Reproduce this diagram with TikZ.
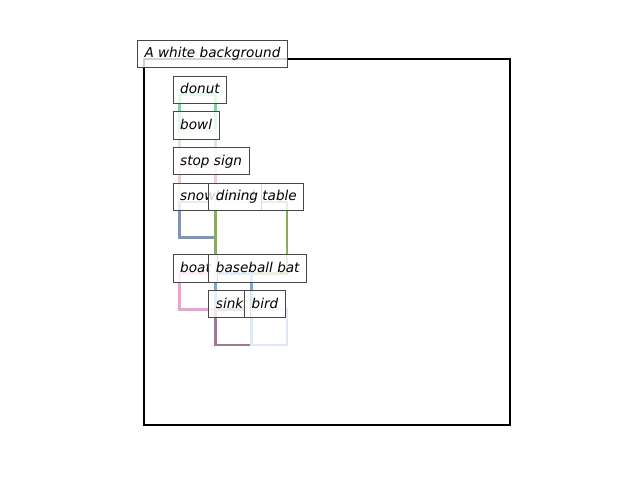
\documentclass[tikz,border=0pt]{standalone}
\usepackage{fontspec}
\setmainfont{DejaVu Sans}
\definecolor{cdonut}{RGB}{110,220,160}
\definecolor{cbowl}{RGB}{212,240,212}
\definecolor{cstop}{RGB}{250,200,200}
\definecolor{csnow}{RGB}{125,150,190}
\definecolor{ctable}{RGB}{140,172,90}
\definecolor{cboat}{RGB}{240,160,210}
\definecolor{cbat}{RGB}{120,165,215}
\definecolor{csink}{RGB}{160,120,145}
\definecolor{cbird}{RGB}{225,232,245}
\tikzset{
  objbox/.style={line width=2.6pt},
  tag/.style={anchor=south west, xshift=-7pt, yshift=-9.2pt,
    draw=black!72, line width=1pt, fill=white, fill opacity=0.82, text opacity=1,
    inner xsep=7pt, inner ysep=7pt, text height=10.4pt, text depth=2.9pt,
    font=\fontsize{13.6}{16}\selectfont\itshape},
}
\begin{document}
\begin{tikzpicture}[x=1pt,y=-1pt]
\useasboundingbox (0,0) rectangle (640,480);
% image frame: 512 x 512 image units drawn into 366 px
\begin{scope}[shift={(144,59)}, x=0.71484pt, y=-0.71484pt]
  % object boxes
  \draw[objbox, cdonut] (50,50) rectangle (100,100);
  \draw[objbox, cbowl]  (50,100) rectangle (100,150);
  \draw[objbox, cstop]  (50,150) rectangle (100,200);
  \draw[objbox, csnow]  (50,200) rectangle (100,250);
  \draw[objbox, ctable] (100,200) rectangle (200,300);
  \draw[objbox, cboat]  (50,300) rectangle (100,350);
  \draw[objbox, cbat]   (100,300) rectangle (150,350);
  \draw[objbox, csink]  (100,350) rectangle (150,400);
  \draw[objbox, cbird]  (150,350) rectangle (200,400);
  % frame
  \draw[line width=2pt, black] (0,0) rectangle (512,512);
  % labels
  \node[tag] (bg)    at (0,0)     {A white background};
  \node[tag] (donut) at (50,50)   {donut};
  \node[tag] (bowl)  at (50,100)  {bowl};
  \node[tag] (stop)  at (50,150)  {stop sign};
  \node[tag] (snow)  at (50,200)  {snowboard};
  \node[tag] (table) at (100,200) {dining table};
  \node[tag] (boat)  at (50,300)  {boat};
  \node[tag] (bat)   at (100,300) {baseball bat};
  \node[tag] (sink)  at (100,350) {sink};
  \node[tag] (bird)  at (150,350) {bird};
\end{scope}
\end{tikzpicture}
\end{document}
